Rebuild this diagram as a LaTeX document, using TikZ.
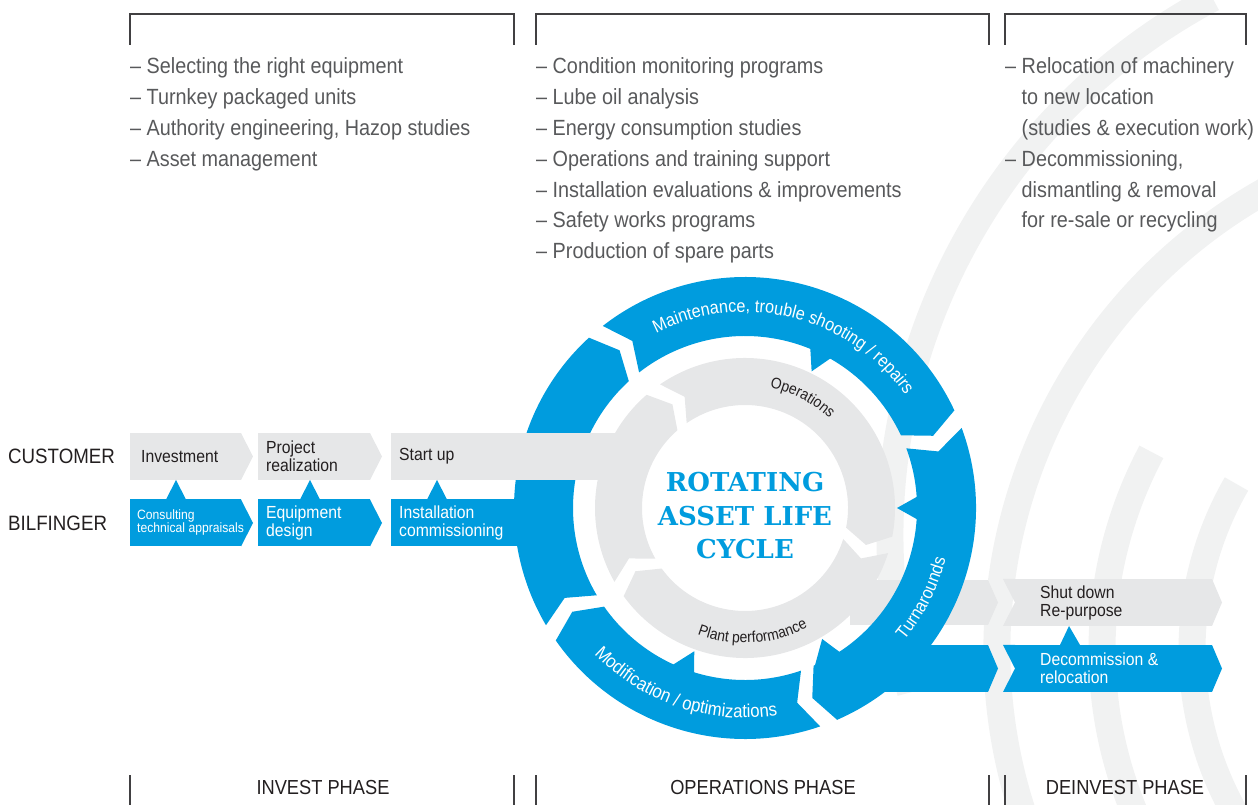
\documentclass[tikz,border=0pt]{standalone}
\usepackage{fontspec}
\setmainfont{Liberation Sans}[FakeStretch=0.9]
\newfontfamily\titlefont{DejaVu Serif}
\usetikzlibrary{decorations.text}

\definecolor{bfblue}{HTML}{009CDE}
\definecolor{ringgray}{HTML}{E6E7E8}
\definecolor{wavegray}{HTML}{F1F2F2}
\definecolor{listgray}{HTML}{58595B}
\definecolor{labeldark}{HTML}{231F20}
\definecolor{bracketgray}{HTML}{414042}

\begin{document}
\begin{tikzpicture}[x=1pt, y=1pt,
	wave/.style={draw=wavegray, line width=27},
	stage/.style={rectangle, anchor=west, outer sep=0, inner sep=0, minimum height=47},
	customer/.style={stage, fill=ringgray},
	service/.style={stage, fill=bfblue},
	boxtext/.style={anchor=west, align=left, inner sep=0, font=\fontsize{17.5}{18}\selectfont},
	listtext/.style={anchor=base west, align=left, inner sep=0, text=listgray, font=\fontsize{22}{30.8}\selectfont},
	rowlabel/.style={anchor=west, inner sep=0, text=labeldark, font=\fontsize{20.8}{21}\selectfont},
	phase/.style={anchor=base, inner sep=0, text=labeldark, font=\fontsize{20.3}{21}\selectfont},
	bracket/.style={draw=bracketgray, line width=1.4},
	ringtext/.style={decorate, decoration={text along path, text align=center, text color=white}},
]
	\useasboundingbox (0,0) rectangle (1258,805);

	% waves in the background
	\begin{scope}
		\clip (0,0) rectangle (1258,805);
		\draw[wave] (1498,270) ++(118:608) arc[start angle=118, end angle=195, radius=608];
		\draw[wave] (1524,155) ++(115:527) arc[start angle=115, end angle=205, radius=527];
		\draw[wave] (1524,155) ++(152:422) arc[start angle=152, end angle=210, radius=422];
		\draw[wave] (1524,155) ++(150:332) arc[start angle=150, end angle=215, radius=332];
	\end{scope}

	% brackets and phases
	\foreach \l/\r in {130/514, 536/989, 1005/1246} {
		\draw[bracket] (\l,760) -- (\l,791) -- (\r,791) -- (\r,760);
		\draw[bracket] (\l,0) -- (\l,30);
		\draw[bracket] (\r,0) -- (\r,30);
	}
	\node[phase] (invphase) at (323,10) {INVEST PHASE};
	\node[phase] (opphase) at (763,10) {OPERATIONS PHASE};
	\node[phase] (dephase) at (1125,10) {DEINVEST PHASE};

	% lists (base = last line)
	\node[listtext] (investlist) at (130,638.6) {– Selecting the right equipment\\– Turnkey packaged units\\– Authority engineering, Hazop studies\\– Asset management};
	\node[listtext] (oplist) at (536,546.2) {– Condition monitoring programs\\– Lube oil analysis\\– Energy consumption studies\\– Operations and training support\\– Installation evaluations \& improvements\\– Safety works programs\\– Production of spare parts};
	\node[listtext] (delist) at (1005,577) {– Relocation of machinery\\\phantom{– }to new location\\\phantom{– }(studies \& execution work)\\– Decommissioning,\\\phantom{– }dismantling \& removal\\\phantom{– }for re-sale or recycling};

	% gray ring
	\begin{scope}[shift={(745,297)}]
		\foreach \a/\b in {209.5/131, 124.5/-11, 342.5/216}
			\fill[ringgray] (\a:150) arc[start angle=\a, end angle=\b, radius=150] -- ({\b-6}:126.5) -- (\b:103)
				arc[start angle=\b, end angle=\a, radius=103] -- ({\a-6}:126.5) -- cycle;
	\end{scope}
	\fill[ringgray] (850,180) rectangle (988,225);
	\fill[ringgray] (988,225) -- (998,202.5) -- (988,180) -- cycle;

	% blue ring
	\begin{scope}[shift={(745,297)}]
		\foreach \a/\b in {210.5/132.5, 128/25, 20.3/-66.5, 289/215}
			\fill[bfblue] (\a:231) arc[start angle=\a, end angle=\b, radius=231] -- ({\b-4}:201.5) -- (\b:172)
				arc[start angle=\b, end angle=\a, radius=172] -- ({\a-4}:201.5) -- cycle;
		\foreach \p/\q/\t in {60/68/64, -4/4/0, -66.5/-56.5/-59.5, 245/253/250.5}
			\fill[bfblue] (\p:174) -- (\t:152) -- (\q:174) -- cycle;
	\end{scope}
	\fill[bfblue] (880,113) rectangle (988,160);
	\fill[bfblue] (988,160) -- (998,136.5) -- (988,113) -- cycle;

	% customer row
	\node[rowlabel] (cust) at (8,348.5) {CUSTOMER};
	\node[customer, minimum width=111] (invest) at (130,348.5) {};
	\node[customer, minimum width=112] (realize) at (258,348.5) {};
	\node[customer, minimum width=234] (startup) at (391,348.5) {};
	\foreach \n in {invest, realize}
		\fill[ringgray] (\n.north east) -- ([xshift=12]\n.east) -- (\n.south east) -- cycle;
	\node[boxtext, text=labeldark] (invest-t) at ([xshift=11]invest.west) {Investment};
	\node[boxtext, text=labeldark] (realize-t) at ([xshift=8]realize.west) {Project\\realization};
	\node[boxtext, text=labeldark] (startup-t) at ([xshift=8]startup.west) {Start up};

	% bilfinger row
	\node[rowlabel] (bilf) at (8,282) {BILFINGER};
	\node[service, minimum width=111] (consult) at (130,282) {};
	\node[service, minimum width=112] (design) at (258,282) {};
	\node[service, minimum width=139] (install) at (391,282) {};
	\foreach \n in {consult, design}
		\fill[bfblue] (\n.north east) -- ([xshift=12]\n.east) -- (\n.south east) -- cycle;
	\node[boxtext, text=white, font=\fontsize{13.5}{13}\selectfont] (consult-t) at ([xshift=7]consult.west) {Consulting\\technical appraisals};
	\node[boxtext, text=white] (design-t) at ([xshift=8]design.west) {Equipment\\design};
	\node[boxtext, text=white] (install-t) at ([xshift=8]install.west) {Installation\\commissioning};
	\fill[bfblue] ([xshift=36]consult.north west) -- ([xshift=46]invest.south west) -- ([xshift=56]consult.north west) -- cycle;
	\fill[bfblue] ([xshift=42]design.north west) -- ([xshift=52]realize.south west) -- ([xshift=62]design.north west) -- cycle;
	\fill[bfblue] ([xshift=36]install.north west) -- ([xshift=46]startup.south west) -- ([xshift=56]install.north west) -- cycle;

	% deinvest rows
	\node[customer, minimum width=197] (shut) at (1015,202.5) {};
	\node[service, minimum width=197] (decomm) at (1015,136.5) {};
	\fill[ringgray] (shut.north west) -- ++(-12,0) -- (shut.west) -- (shut.south west) -- ++(-12,0) -- (shut.west) -- cycle;
	\fill[ringgray] (shut.north east) -- ([xshift=10]shut.east) -- (shut.south east) -- cycle;
	\fill[bfblue] (decomm.north west) -- ++(-12,0) -- (decomm.west) -- (decomm.south west) -- ++(-12,0) -- (decomm.west) -- cycle;
	\fill[bfblue] (decomm.north east) -- ([xshift=10]decomm.east) -- (decomm.south east) -- cycle;
	\node[boxtext, text=labeldark] (shut-t) at ([xshift=25]shut.west) {Shut down\\Re-purpose};
	\node[boxtext, text=white] (decomm-t) at ([xshift=25]decomm.west) {Decommission \&\\relocation};
	\fill[bfblue] ([xshift=45]decomm.north west) -- ([xshift=54]shut.south west) -- ([xshift=65]decomm.north west) -- cycle;

	% ring labels
	\begin{scope}[shift={(745,297)}]
		\path[ringtext, decoration={text={|\fontsize{18}{18}\selectfont|Maintenance, trouble shooting / repairs}}]
			(130:196) arc[start angle=130, end angle=22, radius=196];
		\path[ringtext, decoration={text={|\fontsize{18}{18}\selectfont|Turnarounds}}]
			(-60:207) arc[start angle=-60, end angle=6, radius=207];
		\path[ringtext, decoration={text={|\fontsize{18.6}{18.6}\selectfont|Modification / optimizations}}]
			(205:210) arc[start angle=205, end angle=298, radius=210];
		\path[ringtext, decoration={text color=labeldark, text={|\fontsize{15.5}{15.5}\selectfont|Operations}}]
			(95:123) arc[start angle=95, end angle=30, radius=123];
		\path[ringtext, decoration={text color=labeldark, text={|\fontsize{15.5}{15.5}\selectfont|Plant performance}}]
			(235:135) arc[start angle=235, end angle=312, radius=135];
	\end{scope}

	\node[align=center, text=bfblue, font=\titlefont\bfseries\fontsize{26}{33.5}\selectfont] (title) at (745,289) {ROTATING\\ASSET LIFE\\CYCLE};
\end{tikzpicture}
\end{document}
